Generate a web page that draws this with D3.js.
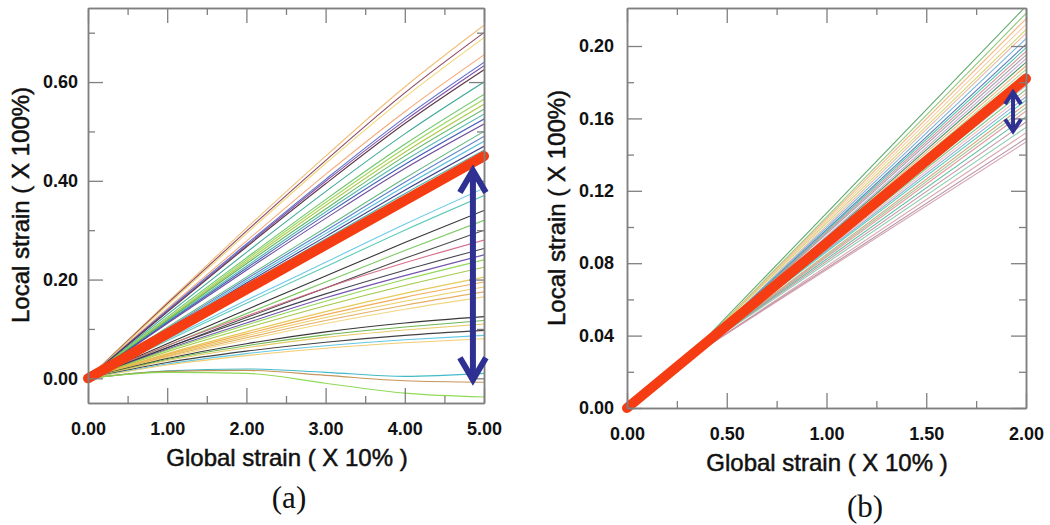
<!DOCTYPE html>
<html><head><meta charset="utf-8">
<script src="https://cdn.jsdelivr.net/npm/d3@7"></script>
<style>body{margin:0;background:#fff}svg{display:block}</style>
</head><body>
<svg id="c" width="1050" height="525"></svg>
<script>
// ---------- DATA ----------
// Panel (a): global strain samples (x 10%) and local strain curves (x 100%)
const globalStrainA = [0, 1, 2, 3, 4, 5];
const localStrainA = [
  [0, 0.154, 0.304, 0.450, 0.590, 0.715],
  [0, 0.151, 0.298, 0.441, 0.578, 0.700],
  [0, 0.148, 0.293, 0.435, 0.569, 0.690],
  [0, 0.141, 0.278, 0.413, 0.540, 0.655],
  [0, 0.138, 0.272, 0.403, 0.528, 0.640],
  [0, 0.136, 0.269, 0.399, 0.522, 0.633],
  [0, 0.134, 0.266, 0.394, 0.516, 0.625],
  [0, 0.129, 0.255, 0.378, 0.495, 0.600],
  [0, 0.124, 0.244, 0.362, 0.474, 0.575],
  [0, 0.121, 0.240, 0.356, 0.466, 0.565],
  [0, 0.119, 0.236, 0.350, 0.458, 0.555],
  [0, 0.117, 0.232, 0.343, 0.450, 0.545],
  [0, 0.115, 0.227, 0.337, 0.441, 0.535],
  [0, 0.113, 0.223, 0.331, 0.433, 0.525],
  [0, 0.111, 0.219, 0.324, 0.425, 0.515],
  [0, 0.103, 0.205, 0.305, 0.405, 0.500],
  [0, 0.100, 0.201, 0.299, 0.397, 0.490],
  [0, 0.098, 0.197, 0.293, 0.389, 0.480],
  [0, 0.096, 0.193, 0.287, 0.381, 0.470],
  [0, 0.095, 0.189, 0.282, 0.374, 0.462],
  [0, 0.093, 0.187, 0.278, 0.369, 0.455],
  [0, 0.090, 0.180, 0.268, 0.356, 0.440],
  [0, 0.079, 0.158, 0.235, 0.312, 0.385],
  [0, 0.076, 0.152, 0.226, 0.300, 0.370],
  [0, 0.070, 0.139, 0.207, 0.275, 0.340],
  [0, 0.066, 0.131, 0.195, 0.259, 0.320],
  [0, 0.062, 0.123, 0.183, 0.243, 0.300],
  [0, 0.066, 0.126, 0.183, 0.234, 0.280],
  [0, 0.062, 0.118, 0.171, 0.219, 0.263],
  [0, 0.059, 0.112, 0.163, 0.208, 0.250],
  [0, 0.057, 0.108, 0.156, 0.200, 0.240],
  [0, 0.054, 0.102, 0.147, 0.188, 0.225],
  [0, 0.050, 0.094, 0.135, 0.172, 0.205],
  [0, 0.048, 0.090, 0.129, 0.164, 0.195],
  [0, 0.046, 0.086, 0.123, 0.156, 0.185],
  [0, 0.044, 0.082, 0.117, 0.148, 0.175],
  [0, 0.042, 0.078, 0.111, 0.140, 0.165],
  [0, 0.040, 0.070, 0.094, 0.112, 0.125],
  [0, 0.038, 0.066, 0.088, 0.104, 0.117],
  [0, 0.036, 0.062, 0.083, 0.098, 0.110],
  [0, 0.032, 0.055, 0.073, 0.087, 0.097],
  [0, 0.029, 0.050, 0.066, 0.078, 0.087],
  [0, 0.027, 0.046, 0.061, 0.072, 0.080],
  [0, 0.015, 0.019, 0.012, 0.004, 0.010],
  [0, 0.014, 0.016, 0.006, -0.005, -0.008],
  [0, 0.012, 0.010, -0.010, -0.030, -0.038]
];
const meanA = [0, 0.45];          // thick red line at x = 0 and x = 5
const meanXA = [0, 5];
const arrowA = [4.86, 0.425, -0.007]; // x, top, bottom

// Panel (b)
const globalStrainB = [0, 0.4, 2.0];
const localStrainB = [
  [0, 0.039, 0.222], [0, 0.038, 0.218], [0, 0.038, 0.215], [0, 0.038, 0.212],
  [0, 0.038, 0.209], [0, 0.037, 0.207], [0, 0.037, 0.204], [0, 0.037, 0.201],
  [0, 0.037, 0.199], [0, 0.037, 0.197], [0, 0.037, 0.195], [0, 0.036, 0.193],
  [0, 0.036, 0.191], [0, 0.036, 0.189], [0, 0.036, 0.187], [0, 0.036, 0.185],
  [0, 0.036, 0.183], [0, 0.036, 0.180], [0, 0.036, 0.178], [0, 0.036, 0.176],
  [0, 0.036, 0.174], [0, 0.036, 0.172], [0, 0.036, 0.170], [0, 0.035, 0.168],
  [0, 0.035, 0.166], [0, 0.035, 0.164], [0, 0.035, 0.161], [0, 0.035, 0.158],
  [0, 0.035, 0.155], [0, 0.034, 0.152], [0, 0.034, 0.149], [0, 0.034, 0.147]
];
const meanB = [0, 0.182];
const meanXB = [0, 2];
const arrowB = [1.935, 0.1756, 0.1518];

const xTicksA = [0, 1, 2, 3, 4, 5];
const yTicksA = [0, 0.2, 0.4, 0.6];
const xTicksB = [0, 0.5, 1.0, 1.5, 2.0];
const yTicksB = [0, 0.04, 0.08, 0.12, 0.16, 0.20];

// ---------- STYLE ----------
const paletteA = ["#f2b86a","#7c3457","#f0d26a","#f5a36a","#4a62c4","#7444a4","#4e2232","#2fa08e",
  "#5cc05c","#94d24e","#a6c43c","#4fae55","#3fb0a2","#3550b4","#603c92","#52b274","#4a74c4","#45b2d6",
  "#2e3082","#2ea3a3","#74c646","#2a2a2a","#5cc4e6","#4ec4b0","#1e1e1e","#6ec452","#363636","#d4607e",
  "#30303e","#6444a4","#84d444","#98c232","#e2c444","#f2a444","#e8c856","#e2a654","#f0d274","#222222",
  "#5eb042","#e2c454","#2e2e2e","#52c2e2","#f2c862","#2eb2c2","#c08a48","#84d646"];
const paletteB = ["#4e9e5a","#8cc67a","#f2b27a","#f6caa0","#cfd062","#e6b0a2","#6aaed2","#5070b2",
  "#3ec2a2","#d48a9a","#9a9a9a","#c2a2d2","#3a8a5a","#f0a464","#a4d07a","#e0c060","#6080c0","#2a9a8a",
  "#b4b4b4","#70c080","#f0b0b0","#8aa0d0","#40c8b0","#d0a070","#a0c0a0","#e09090","#50b898","#c090a0",
  "#80c8a8","#d8a0a8","#b08aa0","#d09aa8"];
const red = "#f53c12", navy = "#2e3192", frame = "#7f7f7f";
const sans = "'Liberation Sans', Arial, Helvetica, sans-serif";

const svg = d3.select("#c");

function panel(cfg) {
  const x = d3.scaleLinear().domain(cfg.xDom).range(cfg.xR);
  const y = d3.scaleLinear().domain(cfg.yDom).range(cfg.yR);
  const g = svg.append("g");
  const clipId = "clip" + cfg.id;
  g.append("clipPath").attr("id", clipId).append("rect")
    .attr("x", cfg.xR[0]).attr("y", cfg.yR[1]).attr("width", cfg.xR[1]-cfg.xR[0]).attr("height", cfg.yR[0]-cfg.yR[1]);

  const line = d3.line().x(d => x(d[0])).y(d => y(d[1])).curve(cfg.curve);
  const lg = g.append("g").attr("clip-path", `url(#${clipId})`);
  cfg.series.forEach((s, i) => {
    lg.append("path").datum(s.map((v, j) => [cfg.xs[j], v]))
      .attr("d", line).attr("fill", "none")
      .attr("stroke", cfg.palette[i % cfg.palette.length])
      .attr("stroke-width", 1.1).attr("stroke-opacity", 0.9);
  });
  // mean line
  g.append("path").datum(cfg.meanX.map((v, j) => [v, cfg.mean[j]]))
    .attr("d", d3.line().x(d => x(d[0])).y(d => y(d[1])))
    .attr("stroke", red).attr("stroke-width", 10).attr("stroke-linecap", "round").attr("fill", "none");

  // frame axes
  const [x0, x1] = cfg.xR, [y0, y1] = cfg.yR;
  const axStyle = sel => {
    sel.select(".domain").attr("stroke", frame).attr("stroke-width", 1.5);
    sel.selectAll(".tick line").attr("stroke", frame).attr("stroke-width", 1.3);
    sel.selectAll("text").attr("font-family", sans).attr("font-weight", "bold")
      .attr("font-size", 18).attr("fill", "#111");
  };
  const fmt = d3.format(".2f");
  g.append("g").attr("transform", `translate(0,${y0})`)
    .call(d3.axisBottom(x).tickValues(cfg.xMinor).tickSize(-7).tickFormat("").tickSizeOuter(0)).call(axStyle);
  g.append("g").attr("transform", `translate(0,${y0})`)
    .call(d3.axisBottom(x).tickValues(cfg.xTicks).tickSize(-15).tickPadding(19).tickFormat(fmt).tickSizeOuter(0)).call(axStyle);
  g.append("g").attr("transform", `translate(0,${y1})`)
    .call(d3.axisTop(x).tickValues(cfg.xMinor).tickSize(-7).tickFormat("").tickSizeOuter(0)).call(axStyle);
  g.append("g").attr("transform", `translate(0,${y1})`)
    .call(d3.axisTop(x).tickValues(cfg.xTicks).tickSize(-15).tickFormat("").tickSizeOuter(0)).call(axStyle);
  g.append("g").attr("transform", `translate(${x0},0)`)
    .call(d3.axisLeft(y).tickValues(cfg.yMinor).tickSize(-7).tickFormat("").tickSizeOuter(0)).call(axStyle);
  g.append("g").attr("transform", `translate(${x0},0)`)
    .call(d3.axisLeft(y).tickValues(cfg.yTicks).tickSize(-15).tickPadding(cfg.yPad).tickFormat(fmt).tickSizeOuter(0)).call(axStyle);
  g.append("g").attr("transform", `translate(${x1},0)`)
    .call(d3.axisRight(y).tickValues(cfg.yMinor).tickSize(-7).tickFormat("").tickSizeOuter(0)).call(axStyle);
  g.append("g").attr("transform", `translate(${x1},0)`)
    .call(d3.axisRight(y).tickValues(cfg.yTicks).tickSize(-15).tickFormat("").tickSizeOuter(0)).call(axStyle);

  // arrow
  const ax = x(cfg.arrow[0]), at = y(cfg.arrow[1]), ab = y(cfg.arrow[2]);
  const hw = cfg.head[0], hh = cfg.head[1];
  const ag = g.append("g").attr("stroke", navy).attr("fill", "none")
    .attr("stroke-width", cfg.head[2]).attr("stroke-linecap", "butt").attr("stroke-linejoin", "miter");
  ag.append("line").attr("x1", ax).attr("x2", ax).attr("y1", at + 2).attr("y2", ab - 2);
  ag.append("path").attr("d", `M${ax-hw},${at+hh}L${ax},${at+2}L${ax+hw},${at+hh}`);
  ag.append("path").attr("d", `M${ax-hw},${ab-hh}L${ax},${ab-2}L${ax+hw},${ab-hh}`);

  // titles
  svg.append("text").attr("x", cfg.xTitle[0]).attr("y", cfg.xTitle[1]).attr("text-anchor", "middle")
    .attr("font-family", sans).attr("font-size", 24).attr("fill", "#111")
    .attr("stroke", "#111").attr("stroke-width", 0.5).text("Global strain ( X 10% )");
  svg.append("text").attr("transform", `translate(${cfg.yTitle[0]},${cfg.yTitle[1]}) rotate(-90)`)
    .attr("text-anchor", "middle").attr("font-family", sans).attr("font-size", 24).attr("fill", "#111")
    .attr("stroke", "#111").attr("stroke-width", 0.5).text("Local strain ( X 100%)");
  svg.append("text").attr("x", cfg.label[0]).attr("y", cfg.label[1]).attr("text-anchor", "middle")
    .attr("font-family", "'Liberation Serif', 'Times New Roman', serif").attr("font-size", 31).attr("fill", "#111")
    .text(cfg.labelText);
}

panel({
  id: "a", xDom: [0, 5], yDom: [-0.05, 0.75], xR: [88, 484], yR: [403, 8],
  xs: globalStrainA, series: localStrainA, palette: paletteA, curve: d3.curveMonotoneX,
  mean: meanA, meanX: meanXA, arrow: arrowA, head: [13, 24, 6],
  xTicks: xTicksA, xMinor: [0.5, 1.5, 2.5, 3.5, 4.5], yTicks: yTicksA, yMinor: [0.1, 0.3, 0.5, 0.7],
  yPad: 10, xTitle: [287, 466], yTitle: [29, 205], label: [289, 508], labelText: "(a)"
});
panel({
  id: "b", xDom: [0, 2], yDom: [0, 0.221], xR: [627, 1026], yR: [408, 8],
  xs: globalStrainB, series: localStrainB, palette: paletteB, curve: d3.curveLinear,
  mean: meanB, meanX: meanXB, arrow: arrowB, head: [8, 14, 4],
  xTicks: xTicksB, xMinor: [0.25, 0.75, 1.25, 1.75], yTicks: yTicksB, yMinor: [0.02, 0.06, 0.10, 0.14, 0.18],
  yPad: 13, xTitle: [827, 471], yTitle: [565, 208], label: [865, 517], labelText: "(b)"
});
</script>
</body></html>
